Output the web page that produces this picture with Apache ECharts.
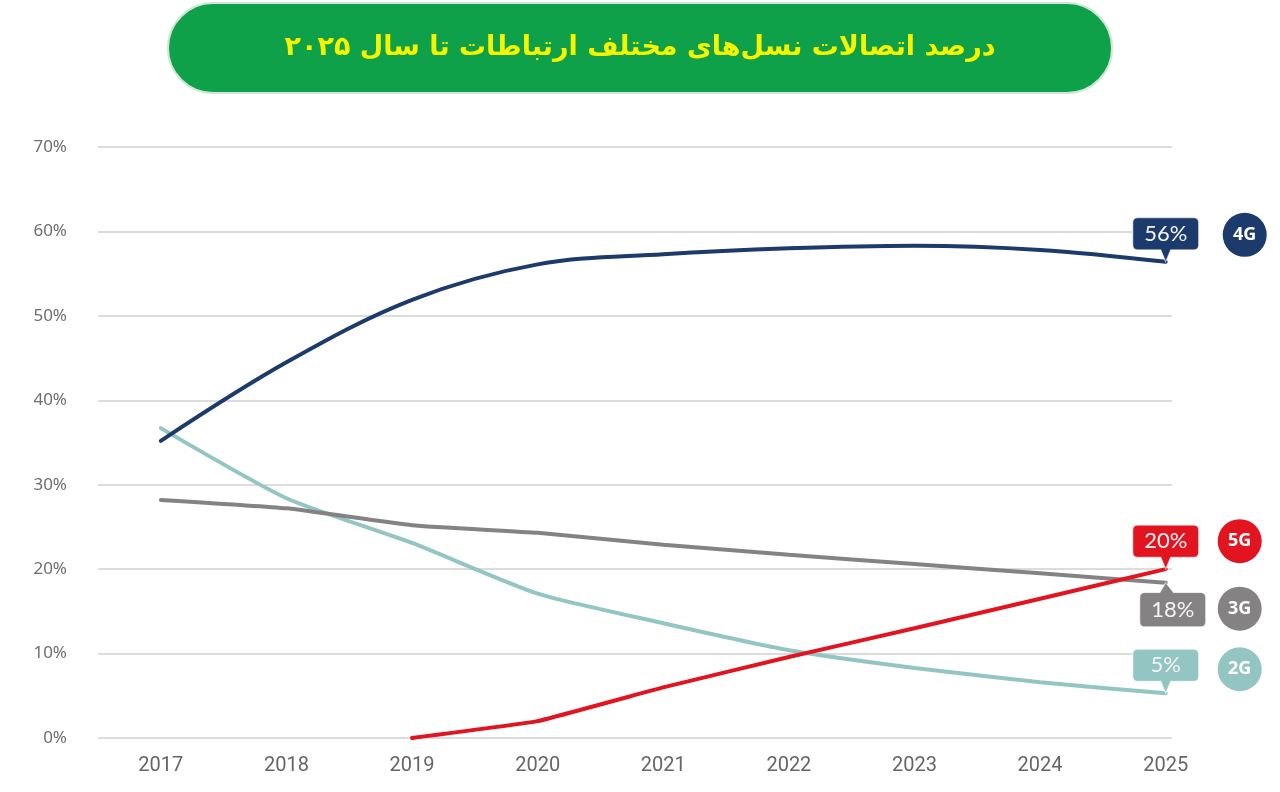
<!DOCTYPE html>
<html>
<head>
<meta charset="utf-8">
<script src="https://cdn.jsdelivr.net/npm/echarts@6/dist/echarts.min.js"></script>
<style>
  html, body { margin: 0; padding: 0; background: #fff; }
  #chart { width: 1280px; height: 792px; }
</style>
</head>
<body>
<div id="chart"></div>
<script>
// سال‌ها و مقادیر (درصد)
var years = [2017, 2018, 2019, 2020, 2021, 2022, 2023, 2024, 2025];
var yTicks = [0, 10, 20, 30, 40, 50, 60, 70];
var g2 = [36.7, 28.4, 23.1, 17.1, 13.6, 10.4, 8.3, 6.6, 5.3];
var g3 = [28.2, 27.2, 25.2, 24.3, 22.9, 21.7, 20.6, 19.5, 18.4];
var g4 = [35.2, 44.5, 51.9, 56.1, 57.3, 58.0, 58.3, 57.8, 56.4];
var g5 = [null, null, 0, 2.0, 6.0, 9.6, 13.0, 16.5, 20.0];
var names = ['2G', '3G', '4G', '5G'];
var colors = ['#93c5c2', '#858283', '#1c3a6c', '#e1141f'];
var titleText = 'درصد اتصالات نسل‌های مختلف ارتباطات تا سال ۲۰۲۵';

var lastYear = years[years.length - 1];
function pairs(arr) {
    var out = [];
    for (var i = 0; i < years.length; i++) {
        if (arr[i] !== null) out.push([years[i], arr[i]]);
    }
    return out;
}

// callout shapes: pointer below / pointer above
var calloutDown = 'path://M5,0 H61 Q66,0 66,5 V27 Q66,32 61,32 H38 L33,44 L28,32 H5 Q0,32 0,27 V5 Q0,0 5,0 Z';
var calloutUp = 'path://M5,10 H20 L26,0 L34,10 H61 Q66,10 66,15 V39 Q66,44 61,44 H5 Q0,44 0,39 V15 Q0,10 5,10 Z';

var calloutCfg = {
    '2G': { up: false, circle: [74, -24], smooth: 0.2 },
    '3G': { up: true, circle: [74, 26], smooth: 0.15 },
    '4G': { up: false, circle: [79, -27], smooth: 0.35 },
    '5G': { up: false, circle: [74, -28], smooth: 0.08 }
};

function makeSeries(name, arr, color) {
    var last = arr[arr.length - 1];
    var cfg = calloutCfg[name];
    return {
        name: name,
        type: 'line',
        data: pairs(arr),
        smooth: cfg.smooth,
        showSymbol: false,
        lineStyle: { color: color, width: 4, cap: 'round' },
        itemStyle: { color: color },
        markPoint: {
            silent: true,
            animation: false,
            data: [{
                coord: [lastYear, last],
                symbol: cfg.up ? calloutUp : calloutDown,
                symbolSize: [66, 44],
                symbolOffset: cfg.up ? [7, 22] : [0, -22],
                itemStyle: { color: color, borderColor: 'rgba(255,255,255,0.6)', borderWidth: 1 },
                label: {
                    show: true,
                    formatter: Math.round(last) + '%',
                    color: '#f4f4f4',
                    fontSize: 22,
                    fontFamily: 'Lato, "Open Sans", sans-serif',
                    offset: cfg.up ? [0, 5] : [0, -6]
                }
            }, {
                coord: [lastYear, last],
                symbol: 'circle',
                symbolSize: 44,
                symbolOffset: cfg.circle,
                itemStyle: { color: color },
                label: {
                    show: true,
                    formatter: name,
                    color: '#ffffff',
                    fontSize: 18,
                    fontWeight: 'bold',
                    fontFamily: '"Open Sans", sans-serif'
                }
            }]
        }
    };
}

var chart = echarts.init(document.getElementById('chart'));
chart.setOption({
    animation: false,
    backgroundColor: '#ffffff',
    graphic: [{
        type: 'rect',
        shape: { x: 168, y: 3, width: 944, height: 90, r: 45 },
        style: { fill: '#0fa04a', stroke: '#cfe6d6', lineWidth: 2 }
    }, {
        type: 'text',
        x: 640,
        y: 48,
        style: {
            text: titleText,
            fill: '#f6f500',
            font: 'bold 27px "DejaVu Sans", sans-serif',
            align: 'center',
            verticalAlign: 'middle'
        }
    }],
    grid: { left: 98, right: 108, top: 147, bottom: 54 },
    xAxis: {
        type: 'value',
        min: 2016.5,
        max: 2025.05,
        axisLine: { show: false },
        axisTick: { show: false },
        splitLine: { show: false },
        axisLabel: {
            customValues: years,
            formatter: function (v) { return String(v); },
            color: '#666666',
            fontSize: 20,
            fontFamily: '"Liberation Sans Narrow", Roboto, sans-serif',
            margin: 18
        }
    },
    yAxis: {
        type: 'value',
        min: yTicks[0],
        max: yTicks[yTicks.length - 1],
        interval: 10,
        axisLine: { show: false },
        axisTick: { show: false },
        splitLine: { lineStyle: { color: '#dcdcdc', width: 2 } },
        axisLabel: {
            formatter: '{value}%',
            color: '#6e6e6e',
            fontSize: 17,
            fontFamily: '"Noto Sans", sans-serif',
            margin: 31
        }
    },
    series: [
        makeSeries('2G', g2, colors[0]),
        makeSeries('3G', g3, colors[1]),
        makeSeries('4G', g4, colors[2]),
        makeSeries('5G', g5, colors[3])
    ]
});
</script>
</body>
</html>
